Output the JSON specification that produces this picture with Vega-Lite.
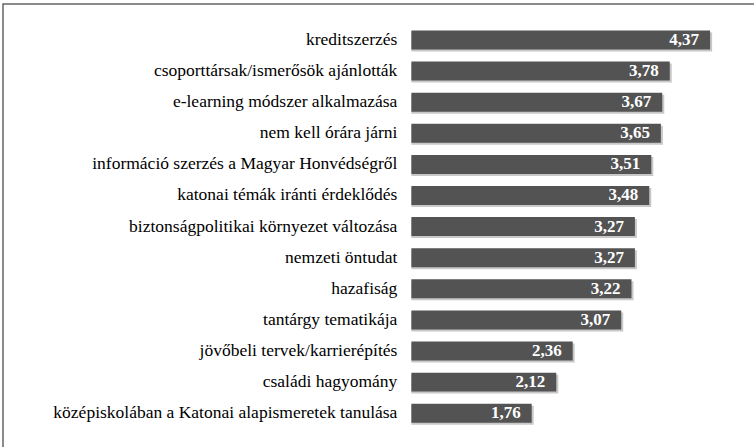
{
  "$schema": "https://vega.github.io/schema/vega-lite/v6.json",
  "width": 757,
  "height": 449,
  "padding": {"left": 3, "top": 4, "right": -6, "bottom": -6},
  "autosize": {"type": "none"},
  "background": "white",
  "config": {
    "view": {"stroke": "#666666", "strokeWidth": 1.5},
    "font": "Liberation Serif",
    "text": {"font": "Liberation Serif"},
    "locale": {
      "number": {"decimal": ",", "thousands": " ", "grouping": [3], "currency": ["", " Ft"]}
    }
  },
  "data": {
    "values": [
      {"item": "kreditszerzés", "value": 4.37},
      {"item": "csoporttársak/ismerősök ajánlották", "value": 3.78},
      {"item": "e-learning módszer alkalmazása", "value": 3.67},
      {"item": "nem kell órára járni", "value": 3.65},
      {"item": "információ szerzés a Magyar Honvédségről", "value": 3.51},
      {"item": "katonai témák iránti érdeklődés", "value": 3.48},
      {"item": "biztonságpolitikai környezet változása", "value": 3.27},
      {"item": "nemzeti öntudat", "value": 3.27},
      {"item": "hazafiság", "value": 3.22},
      {"item": "tantárgy tematikája", "value": 3.07},
      {"item": "jövőbeli tervek/karrierépítés", "value": 2.36},
      {"item": "családi hagyomány", "value": 2.12},
      {"item": "középiskolában a Katonai alapismeretek tanulása", "value": 1.76}
    ]
  },
  "encoding": {
    "y": {
      "field": "item",
      "type": "nominal",
      "sort": [
        "kreditszerzés",
        "csoporttársak/ismerősök ajánlották",
        "e-learning módszer alkalmazása",
        "nem kell órára járni",
        "információ szerzés a Magyar Honvédségről",
        "katonai témák iránti érdeklődés",
        "biztonságpolitikai környezet változása",
        "nemzeti öntudat",
        "hazafiság",
        "tantárgy tematikája",
        "jövőbeli tervek/karrierépítés",
        "családi hagyomány",
        "középiskolában a Katonai alapismeretek tanulása"
      ],
      "axis": null,
      "scale": {"range": [26.5, 418.7], "paddingInner": 0.39, "paddingOuter": 0, "align": 0}
    }
  },
  "layer": [
    {
      "mark": {"type": "bar", "color": "#9a9a9a", "opacity": 0.55, "xOffset": 2, "yOffset": 2},
      "encoding": {
        "x": {"field": "value", "type": "quantitative", "scale": {"domain": [-5.974, 5.1], "nice": false, "zero": false}, "axis": null},
        "x2": {"datum": 0}
      }
    },
    {
      "mark": {"type": "bar", "color": "#535353"},
      "encoding": {
        "x": {"field": "value", "type": "quantitative"},
        "x2": {"datum": 0}
      }
    },
    {
      "mark": {"type": "text", "align": "right", "dx": -11, "color": "white", "fontWeight": "bold", "fontSize": 17, "font": "Liberation Serif"},
      "encoding": {
        "x": {"field": "value", "type": "quantitative"},
        "text": {"field": "value", "type": "quantitative", "format": ".2f"}
      }
    },
    {
      "mark": {"type": "text", "align": "right", "dx": -14, "color": "black", "fontSize": 17.5, "font": "Liberation Serif"},
      "encoding": {
        "x": {"datum": 0, "type": "quantitative"},
        "text": {"field": "item", "type": "nominal"}
      }
    }
  ]
}
